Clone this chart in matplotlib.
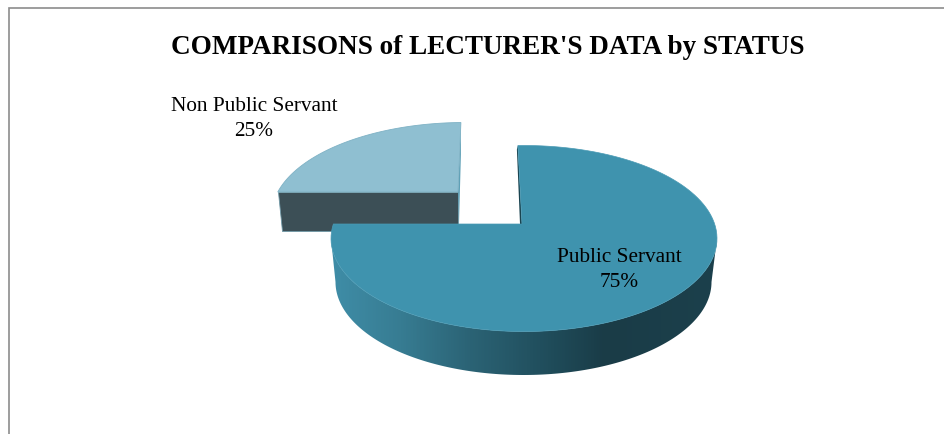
import numpy as np
import matplotlib
matplotlib.use("Agg")
import matplotlib.pyplot as plt
from matplotlib.colors import LinearSegmentedColormap
from matplotlib.patches import Polygon

TITLE = "COMPARISONS of LECTURER'S DATA by STATUS"
categories = ["Public Servant", "Non Public Servant"]
shares = [75, 25]

plt.rcParams["font.family"] = ["Liberation Serif", "DejaVu Serif"]
fig = plt.figure(figsize=(9.44, 4.35), dpi=100, facecolor="white")
ax = fig.add_axes([0, 0, 1, 1])
W, H = 944, 435


def rim(theta_deg, apex, center, rx, ry):
    """Point on an ellipse reached from apex along a clock angle (0 = up, clockwise)."""
    th = np.radians(np.atleast_1d(theta_deg))
    dx, dy = np.sin(th), -np.cos(th)
    ox, oy = (apex[0] - center[0]) / rx, (apex[1] - center[1]) / ry
    ux, uy = dx / rx, dy / ry
    a = ux ** 2 + uy ** 2
    b = 2 * (ox * ux + oy * uy)
    c = ox ** 2 + oy ** 2 - 1
    r = (-b + np.sqrt(b ** 2 - 4 * a * c)) / (2 * a)
    return np.column_stack([apex[0] + r * dx, apex[1] + r * dy])


rx, ry = 193, 93
deg = [360 * s / 100 for s in shares]

# ---- Non Public Servant (rear, pulled away) ----
apex2, ctr2 = (458, 193), (464.5, 216.5)
depth2 = 39
pts2 = rim(np.linspace(deg[0], deg[0] + deg[1] + 2.4, 160), apex2, ctr2, rx, ry)
ax.add_patch(Polygon([pts2[0], apex2, (apex2[0], apex2[1] + depth2),
                      (pts2[0][0] + 4, pts2[0][1] + depth2)],
                     closed=True, fc="#3C4F56", ec="#6F98A6", lw=0.6, zorder=2))
ax.add_patch(Polygon([pts2[-1], (pts2[-1][0], pts2[-1][1] + 32),
                      (apex2[0] + 1, apex2[1] + 32), apex2],
                     closed=True, fc="#5FA0B6", ec="none", zorder=2))
ax.add_patch(Polygon(np.vstack([pts2, [apex2]]), closed=True,
                     fc="#8FBFD1", ec="#7FB2C5", lw=0.6, zorder=3))

# ---- Public Servant (front) ----
apex1, ctr1 = (522, 225), (524, 239.5)
b_ctr, b_rx, b_ry = (523.5, 283), 188, 93
tilt = -3
t = np.linspace(0, deg[0], 240)
pts1 = rim(t + tilt * (1 - t / deg[0]), apex1, ctr1, rx, ry)

# inner dark face
ax.add_patch(Polygon([pts1[0], (pts1[0][0] - 1, pts1[0][1] + 4),
                      (apex1[0] - 2, apex1[1]), apex1],
                     closed=True, fc="#1A4450", ec="none", zorder=4))

# outer wall with a left-to-right gradient
phi = np.radians(np.linspace(180, 0, 200))
top_edge = np.column_stack([ctr1[0] + rx * np.cos(phi), ctr1[1] + ry * np.sin(phi)])
bot_edge = np.column_stack([b_ctr[0] + b_rx * np.cos(phi), b_ctr[1] + b_ry * np.sin(phi)])
wall = Polygon(np.vstack([top_edge, bot_edge[::-1]]), closed=True,
               fc="none", ec="none", zorder=5)
ax.add_patch(wall)
cmap = LinearSegmentedColormap.from_list(
    "wall", [(0, "#3F8DA7"), (0.18, "#377C92"), (0.36, "#2B6375"),
             (0.58, "#1F4B59"), (0.71, "#1A3C47"), (1, "#1C404C")])
img = ax.imshow(np.linspace(0, 1, 400)[None, :], cmap=cmap, aspect="auto",
                extent=(ctr1[0] - rx, ctr1[0] + rx, 0, H), zorder=5)
img.set_clip_path(wall)

# top face
ax.add_patch(Polygon(np.vstack([pts1, [apex1]]), closed=True,
                     fc="#3F93AE", ec="#4A9AB4", lw=0.5, zorder=6))

# ---- chart frame ----
ax.plot([9, 9, W], [H, 8.5, 8.5], color="#8C8C8C", lw=1.2, zorder=1,
        solid_joinstyle="miter")

# ---- text ----
ax.text(488, 48, TITLE, ha="center", va="center", fontsize=19.5,
        fontweight="bold", color="black", zorder=8)
ax.text(619, 270, f"{categories[0]}\n{shares[0]}%", ha="center", va="center",
        fontsize=15.3, linespacing=1.42, color="black", zorder=8)
ax.text(254, 119, f"{categories[1]}\n{shares[1]}%", ha="center", va="center",
        fontsize=15.3, linespacing=1.42, color="black", zorder=8)

ax.set_xlim(0, W)
ax.set_ylim(H, 0)
ax.axis("off")
fig.savefig("out.png", dpi=100, facecolor="white")
